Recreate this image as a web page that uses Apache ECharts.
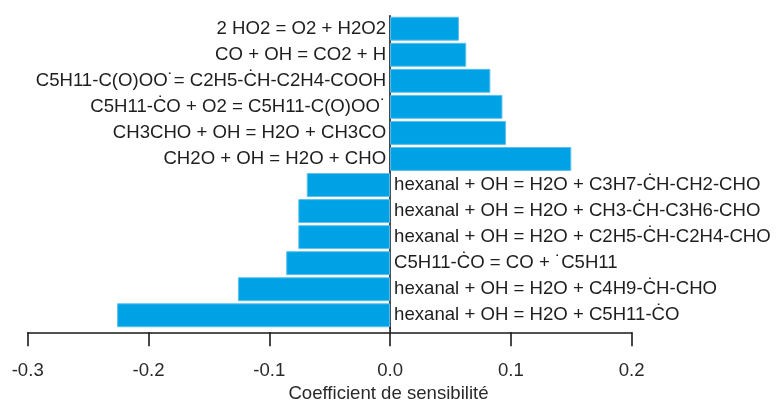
<!DOCTYPE html>
<html>
<head>
<meta charset="utf-8">
<script src="https://cdn.jsdelivr.net/npm/echarts@6/dist/echarts.min.js"></script>
<style>
html,body{margin:0;padding:0;background:#fff;}
#chart{width:777px;height:401px;}
</style>
</head>
<body>
<div id="chart"></div>
<script>
// Categories listed top to bottom
const categories = [
  "2 HO2 = O2 + H2O2",
  "CO + OH = CO2 + H",
  "C5H11-C(O)OO\u02D9= C2H5-C\u0307H-C2H4-COOH",
  "C5H11-C\u0307O + O2 = C5H11-C(O)OO\u02D9",
  "CH3CHO + OH = H2O + CH3CO",
  "CH2O + OH = H2O + CHO",
  "hexanal + OH = H2O + C3H7-C\u0307H-CH2-CHO",
  "hexanal + OH = H2O + CH3-C\u0307H-C3H6-CHO",
  "hexanal + OH = H2O + C2H5-C\u0307H-C2H4-CHO",
  "C5H11-C\u0307O = CO + \u02D9C5H11",
  "hexanal + OH = H2O + C4H9-C\u0307H-CHO",
  "hexanal + OH = H2O + C5H11-C\u0307O"
];
const sensitivity = [0.057, 0.063, 0.083, 0.093, 0.096, 0.150, -0.069, -0.076, -0.076, -0.086, -0.126, -0.226];
const tickValues = [-0.3, -0.2, -0.1, 0.0, 0.1, 0.2];
const xTitle = "Coefficient de sensibilité";

const FONT = "'Liberation Sans', Arial, sans-serif";
const FS = 18.6;
const GRID_LEFT = 27.7, GRID_RIGHT = 145.3, GRID_TOP = 15.7, GRID_H = 312.6, AX_OFFSET = 4;

const chart = echarts.init(document.getElementById('chart'), null, {renderer: 'canvas'});

const barData = sensitivity.map(v => ({
  value: v,
  label: {
    show: true,
    position: v >= 0 ? 'left' : 'right',
    distance: 4,
    formatter: p => p.name,
    color: '#1e1e1e',
    fontFamily: FONT,
    fontSize: FS
  }
}));

chart.setOption({
  animation: false,
  backgroundColor: '#ffffff',
  title: {
    text: xTitle,
    left: 'center',
    top: 384,
    padding: 0,
    textStyle: {fontFamily: FONT, fontSize: FS, fontWeight: 'normal', color: '#2a2a2a'}
  },
  grid: {left: GRID_LEFT, right: GRID_RIGHT, top: GRID_TOP, height: GRID_H, containLabel: false},
  xAxis: {
    type: 'value',
    min: tickValues[0],
    max: tickValues[tickValues.length - 1],
    interval: 0.1,
    offset: AX_OFFSET,
    splitLine: {show: false},
    axisLine: {show: true, onZero: false, lineStyle: {color: '#1a1a1a', width: 1.6}},
    axisTick: {show: true, inside: false, length: 14, lineStyle: {color: '#1a1a1a', width: 1.6}},
    axisLabel: {
      margin: 29,
      fontFamily: FONT, fontSize: FS, color: '#2a2a2a',
      formatter: v => (Math.abs(v) < 1e-9 ? 0 : v).toFixed(1)
    }
  },
  yAxis: {
    type: 'category',
    data: categories,
    inverse: true,
    axisLine: {show: true, onZero: true, lineStyle: {color: '#1a1a1a', width: 1.6}},
    axisTick: {show: false},
    axisLabel: {show: false},
    splitLine: {show: false}
  },
  series: [{
    type: 'bar',
    data: barData,
    barCategoryGap: '8%',
    itemStyle: {color: '#00A2E6', borderColor: '#5ec0ee', borderWidth: 1}
  }]
});

// extend the vertical zero line down to the offset x axis line
const x0 = chart.convertToPixel({xAxisIndex: 0}, 0);
chart.setOption({
  graphic: [{
    type: 'line',
    shape: {x1: x0, y1: GRID_TOP + GRID_H - 1, x2: x0, y2: GRID_TOP + GRID_H + AX_OFFSET},
    style: {stroke: '#1a1a1a', lineWidth: 1.6},
    silent: true
  }]
});
</script>
</body>
</html>
